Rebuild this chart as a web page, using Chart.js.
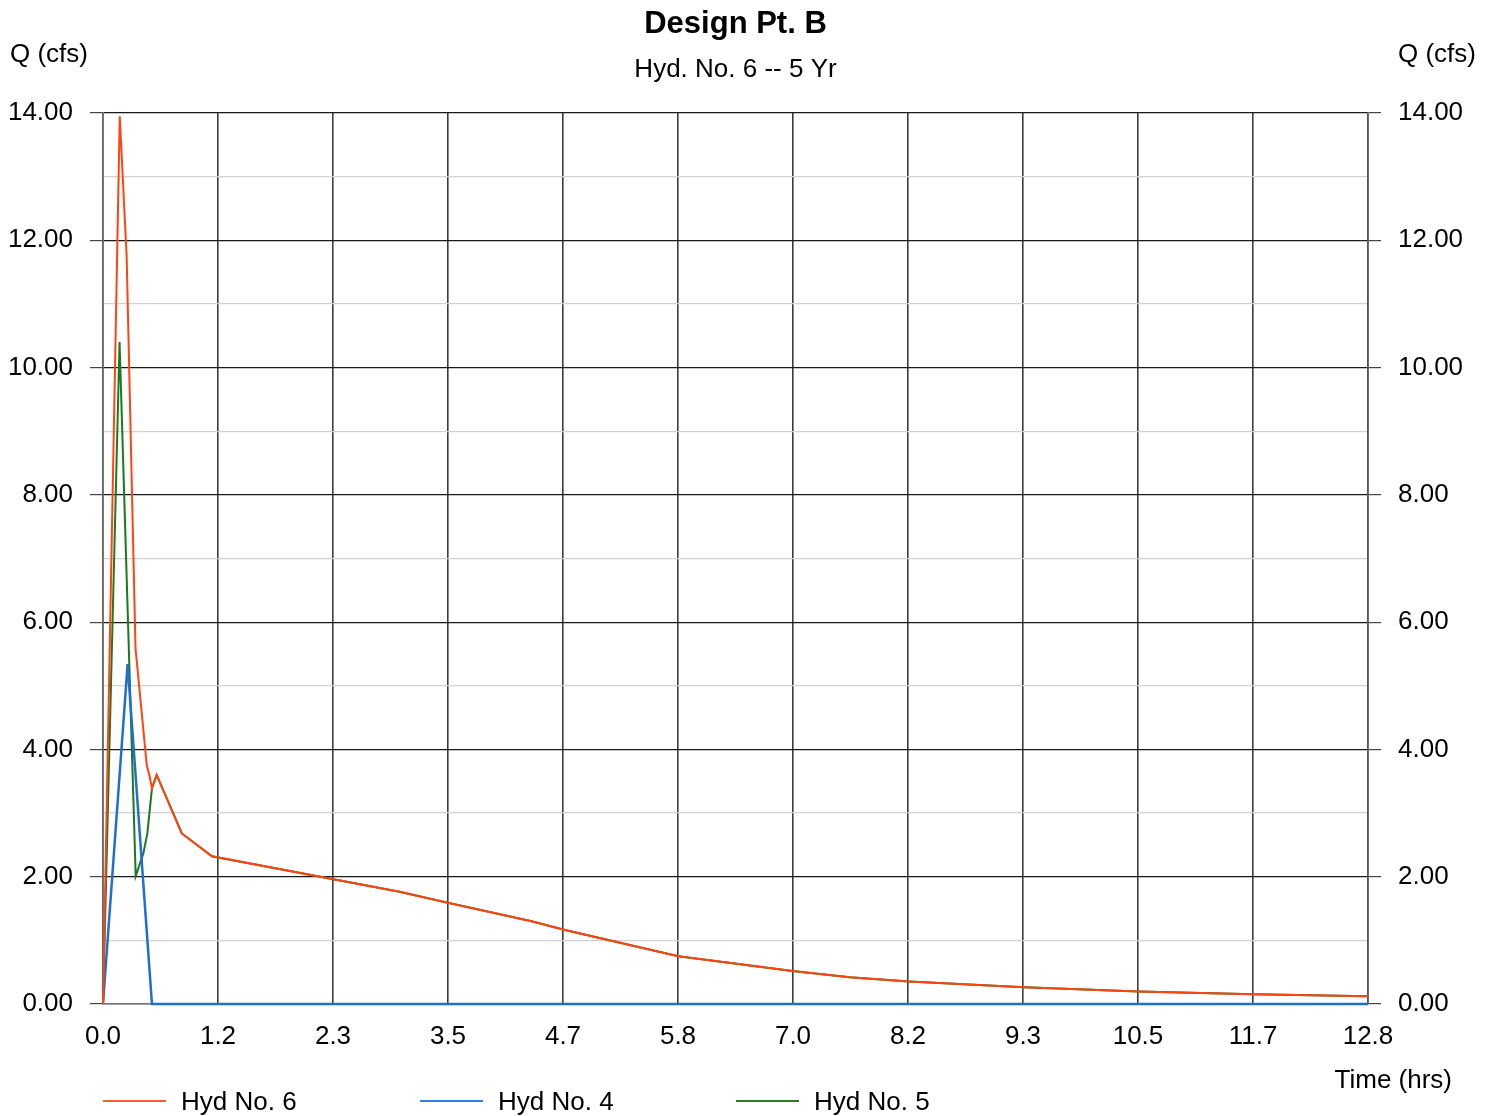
<!DOCTYPE html>
<html>
<head>
<meta charset="utf-8">
<title>Design Pt. B</title>
<script src="https://cdn.jsdelivr.net/npm/chart.js@4.4.1/dist/chart.umd.min.js"></script>
<style>
  html, body { margin: 0; padding: 0; background: #fff; }
  #wrap { width: 1497px; height: 1116px; }
</style>
</head>
<body>
<div id="wrap"><canvas id="hydro" width="1497" height="1116"></canvas></div>
<script>
const chartTitle = 'Design Pt. B';
const chartSubtitle = 'Hyd. No. 6 -- 5 Yr';
const yAxisTitle = 'Q (cfs)';
const xAxisTitle = 'Time (hrs)';

const xTickLabels = ['0.0', '1.2', '2.3', '3.5', '4.7', '5.8', '7.0', '8.2', '9.3', '10.5', '11.7', '12.8'];
const yTickLabels = ['0.00', '2.00', '4.00', '6.00', '8.00', '10.00', '12.00', '14.00'];
const xMax = 12.84;
const yMax = 14;

// Hyd No. 6 (combined)
const hyd6Time = [0, 0.17, 0.24, 0.33, 0.444, 0.47, 0.497, 0.545, 0.80, 1.106, 3.01, 3.5, 4.35, 4.7, 5.84, 7.0, 7.58, 8.18, 9.35, 10.51, 11.68, 12.84];
const hyd6Flow = [0, 13.95, 11.75, 5.59, 3.755, 3.60, 3.39, 3.60, 2.68, 2.32, 1.765, 1.59, 1.30, 1.16, 0.75, 0.52, 0.42, 0.355, 0.265, 0.196, 0.154, 0.122];

// Hyd No. 4
const hyd4Time = [0, 0.25, 0.497, 12.84];
const hyd4Flow = [0, 5.34, 0, 0];

// Hyd No. 5
const hyd5Time = [0, 0.168, 0.332, 0.41, 0.45, 0.497, 0.545, 0.80, 1.106, 3.01, 3.5, 4.35, 4.7, 5.84, 7.0, 7.58, 8.18, 9.35, 10.51, 11.68, 12.84];
const hyd5Flow = [0, 10.40, 2.01, 2.37, 2.68, 3.39, 3.60, 2.68, 2.32, 1.765, 1.59, 1.30, 1.16, 0.75, 0.52, 0.42, 0.355, 0.265, 0.196, 0.154, 0.122];

const seriesNames = ['Hyd No. 6', 'Hyd No. 4', 'Hyd No. 5'];
const seriesColors = ['#ff4312', '#1f6fd2', '#1b7a1b'];
const legendColors = ['#ff5a35', '#2a82e2', '#2a7d2a'];

const FONT = 'Liberation Sans, Arial, Helvetica, sans-serif';
Chart.defaults.font.family = FONT;
Chart.defaults.font.size = 26;
Chart.defaults.color = '#000';

function pairs(xs, ys) { return xs.map((x, i) => ({ x: x, y: ys[i] })); }

const isMajor = v => Math.round(v) % 2 === 0;

const decorPlugin = {
  id: 'decor',
  afterDraw(chart) {
    const c = chart.ctx;
    const area = chart.chartArea;
    const mid = (area.left + area.right) / 2;
    c.save();
    c.fillStyle = '#000';
    c.textBaseline = 'alphabetic';

    c.textAlign = 'center';
    c.font = 'bold 31px ' + FONT;
    c.fillText(chartTitle, mid, 33);
    c.font = '26px ' + FONT;
    c.fillText(chartSubtitle, mid, 77);

    c.textAlign = 'left';
    c.fillText(yAxisTitle, 10, 62);
    c.fillText(yAxisTitle, 1398, 62);
    c.textAlign = 'right';
    c.fillText(xAxisTitle, 1452, 1088);

    // legend
    c.textAlign = 'left';
    const starts = [103, 420, 736];
    chart.data.datasets.forEach((ds, i) => {
      const x = starts[i];
      c.strokeStyle = legendColors[i];
      c.lineWidth = 2;
      c.beginPath();
      c.moveTo(x, 1101);
      c.lineTo(x + 63, 1101);
      c.stroke();
      c.fillText(ds.label, x + 78, 1110);
    });
    c.restore();
  }
};

new Chart(document.getElementById('hydro'), {
  type: 'line',
  data: {
    datasets: [
      { label: seriesNames[0], data: pairs(hyd6Time, hyd6Flow), borderColor: seriesColors[0], backgroundColor: seriesColors[0] },
      { label: seriesNames[1], data: pairs(hyd4Time, hyd4Flow), borderColor: seriesColors[1], backgroundColor: seriesColors[1], borderWidth: 2.5 },
      { label: seriesNames[2], data: pairs(hyd5Time, hyd5Flow), borderColor: seriesColors[2], backgroundColor: seriesColors[2] }
    ]
  },
  options: {
    responsive: false,
    animation: false,
    layout: { padding: { top: 113, left: 0, right: 0, bottom: 0 } },
    elements: {
      line: { borderWidth: 2, tension: 0, fill: false },
      point: { radius: 0, hoverRadius: 0 }
    },
    datasets: { line: { clip: 4 } },
    plugins: { legend: { display: false }, tooltip: { enabled: false }, title: { display: false } },
    scales: {
      x: {
        type: 'linear',
        min: 0,
        max: xMax,
        afterBuildTicks: axis => {
          axis.ticks = xTickLabels.map((t, i) => ({ value: i * xMax / (xTickLabels.length - 1) }));
        },
        afterFit: s => { s.height = 112; },
        ticks: {
          autoSkip: false,
          maxRotation: 0,
          padding: 17,
          callback: (v, i) => xTickLabels[i]
        },
        grid: { color: '#3c3c3c', lineWidth: 1.6, drawTicks: false },
        border: { color: '#777', width: 1.5 }
      },
      y: {
        position: 'left',
        min: 0,
        max: yMax,
        afterFit: s => { s.width = 103; },
        ticks: {
          stepSize: 1,
          padding: 17,
          callback: v => isMajor(v) ? yTickLabels[Math.round(v) / 2] : ''
        },
        grid: {
          color: ctx => isMajor(ctx.tick.value) ? '#1a1a1a' : '#d2d2d2',
          lineWidth: 1.2,
          tickLength: 13,
          tickColor: ctx => isMajor(ctx.tick.value) ? '#444' : 'rgba(0,0,0,0)'
        },
        border: { color: '#666', width: 1.5 }
      },
      y2: {
        position: 'right',
        min: 0,
        max: yMax,
        afterFit: s => { s.width = 129; },
        ticks: {
          stepSize: 1,
          padding: 17,
          callback: v => isMajor(v) ? yTickLabels[Math.round(v) / 2] : ''
        },
        grid: {
          drawOnChartArea: false,
          tickLength: 13,
          lineWidth: 1.2,
          tickColor: ctx => isMajor(ctx.tick.value) ? '#444' : 'rgba(0,0,0,0)'
        },
        border: { color: '#555', width: 1.5 }
      }
    }
  },
  plugins: [decorPlugin]
});
</script>
</body>
</html>
